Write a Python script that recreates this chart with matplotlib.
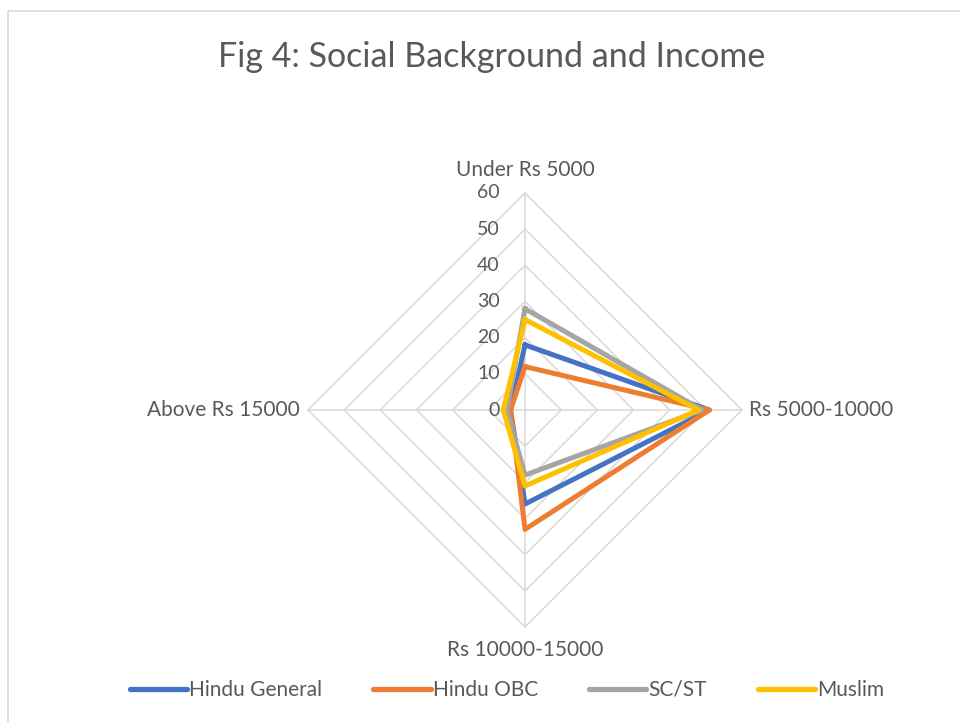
import numpy as np
import matplotlib.pyplot as plt
from matplotlib.patches import Rectangle

plt.rcParams['font.family'] = ['Lato', 'DejaVu Sans']

# data (percent of each group per income band)
categories = ['Under Rs 5000', 'Rs 5000-10000', 'Rs 10000-15000', 'Above Rs 15000']
groups = ['Hindu General', 'Hindu OBC', 'SC/ST', 'Muslim']
hindu_general = [18, 51, 26, 4]
hindu_obc = [12, 51, 33, 4]
sc_st = [28, 49, 18, 5]
muslim = [25, 48, 21, 6]
ticks = [0, 10, 20, 30, 40, 50, 60]

series = [hindu_general, hindu_obc, sc_st, muslim]
colors = ['#4472C4', '#ED7D31', '#A5A5A5', '#FFC000']
grid_c = '#D9D9D9'
text_c = '#595959'

# clockwise from the top
angles = np.pi / 2 - np.arange(len(categories)) * 2 * np.pi / len(categories)

W, H = 960, 722
cx, cy = 525, 410          # centre in pixels
k = 217 / 60               # pixels per unit

fig = plt.figure(figsize=(W / 100, H / 100), dpi=100)
ax = fig.add_axes([0, 0, 1, 1])
ax.set_xlim(-cx / k, (W - cx) / k)
ax.set_ylim(-(H - cy) / k, cy / k)
ax.axis('off')

# grid diamonds and spokes
rmax = ticks[-1]
for t in ticks[1:]:
    gx = np.append(t * np.cos(angles), t * np.cos(angles[0]))
    gy = np.append(t * np.sin(angles), t * np.sin(angles[0]))
    ax.plot(gx, gy, color=grid_c, lw=1.1, zorder=1)
for a in angles:
    ax.plot([0, rmax * np.cos(a)], [0, rmax * np.sin(a)], color=grid_c, lw=1.1, zorder=1)

# tick labels along top spoke
for t in ticks:
    ax.text(-7, t, str(t), ha='right', va='center', fontsize=14, color=text_c, zorder=2)

# category labels
lab_fs = 15
ax.text(0, rmax + 6.4, categories[0], ha='center', va='center', fontsize=lab_fs, color=text_c)
ax.text(rmax + 1.8, 0, categories[1], ha='left', va='center', fontsize=lab_fs, color=text_c)
ax.text(0, -(rmax + 6.4), categories[2], ha='center', va='center', fontsize=lab_fs, color=text_c)
ax.text(-(rmax + 2.2), 0, categories[3], ha='right', va='center', fontsize=lab_fs, color=text_c)

# series
for vals, c, name in zip(series, colors, groups):
    v = np.array(vals + vals[:1], dtype=float)
    a = np.append(angles, angles[0])
    ax.plot(v * np.cos(a), v * np.sin(a), color=c, lw=3.6, solid_joinstyle='round',
            label=name, zorder=3)

fig.text(492 / W, 1 - 57 / H, 'Fig 4: Social Background and Income', ha='center', va='center',
         fontsize=24.5, color=text_c)

leg = ax.legend(loc='center', bbox_to_anchor=(507 / W, 1 - 690 / H), ncol=4, frameon=False,
                fontsize=lab_fs, handlelength=2.75, handletextpad=0.1, columnspacing=2.45,
                bbox_transform=fig.transFigure)
for txt in leg.get_texts():
    txt.set_color(text_c)
for ln in leg.get_lines():
    ln.set_linewidth(3.8)
    ln.set_solid_capstyle('round')

fig.patches.append(Rectangle((8 / W, -0.05), 1.1, 1 - 11 / H + 0.05, transform=fig.transFigure,
                             fill=False, edgecolor=grid_c, lw=1.2))

fig.savefig('out.png', dpi=100)
